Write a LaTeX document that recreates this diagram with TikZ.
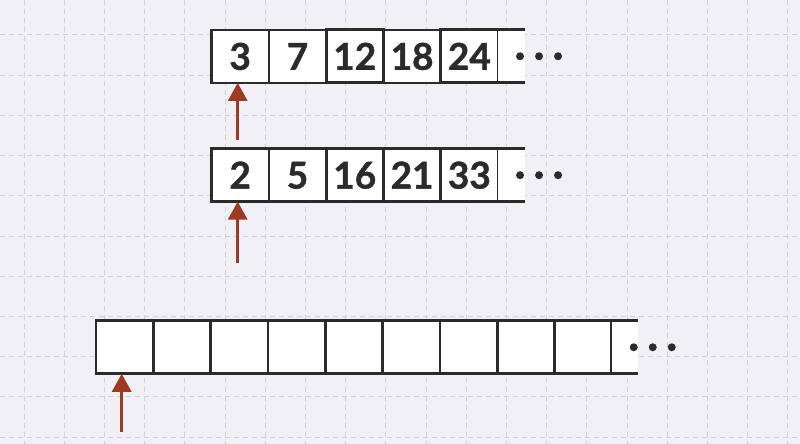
\documentclass[tikz,border=0pt]{standalone}
\usepackage{fontspec}
\setmainfont{Lato}[BoldFeatures={FakeBold=1.2}]
\usetikzlibrary{arrows.meta, matrix, positioning}
\definecolor{ink}{HTML}{2B2B2B}
\definecolor{rust}{HTML}{9E3A22}
\definecolor{paper}{HTML}{F1F0F5}
\definecolor{rule}{HTML}{CFCFD4}
\tikzstyle{ptr} = [draw=rust, -{Triangle[length=18pt,width=19pt]}, line width=3pt]

\begin{document}
\begin{tikzpicture}[x=1pt, y=-1pt, ampersand replacement=\&,
    cell/.style={rectangle, draw=ink, line width=2.7pt, fill=white, text=ink, minimum width=57.3pt, minimum height=53pt, inner sep=0pt, outer sep=0pt, font=\fontsize{37}{40}\selectfont\bfseries},
    row/.style={matrix of nodes, nodes={cell}, inner sep=0pt, outer sep=0pt, column sep=-2.7pt, nodes in empty cells, anchor=north west}]

    \tikzset{gridline/.style={draw=rule, line width=1pt, dash pattern=on 5pt off 4pt},
      tail/.style={draw=ink, line width=2.7pt}}

    \fill[paper] (0,0) rectangle (800,444);
    \useasboundingbox (0,0) rectangle (800,444);
    \foreach \i in {0,...,19} \draw[gridline] (24+40.2*\i,0) -- (24+40.2*\i,444);
    \foreach \j in {0,...,10} \draw[gridline] (0,35+40.2*\j) -- (800,35+40.2*\j);

    \matrix (A) [row] at (210.2,28.4) {3 \& 7 \& 12 \& 18 \& 24\\};
    \matrix (B) [row] at (210.2,147.2) {2 \& 5 \& 16 \& 21 \& 33\\};
    \matrix (C) [row] at (94.7,319.4) {\&\&\&\&\&\&\&\&\\};

    % open ends
    \foreach \m/\k in {A/5, B/5, C/9} {
      \fill[white] (\m-1-\k.north east) rectangle ++(26.7,53);
      \draw[tail] (\m-1-\k.north east) -- ++(26.7,0) (\m-1-\k.south east) -- ++(26.7,0);
      \foreach \d in {22,41,60} \fill[ink] ([xshift=\d pt]\m-1-\k.east) circle (4);
    }

    \coordinate (pa) at ([xshift=-2.5pt,yshift=-57.3pt]A-1-1.south);
    \coordinate (pb) at ([xshift=-2.5pt,yshift=-61pt]B-1-1.south);
    \coordinate (pc) at ([xshift=-3pt,yshift=-58pt]C-1-1.south);
    \draw[ptr] (pa) -- (pa |- A-1-1.south);
    \draw[ptr] (pb) -- (pb |- B-1-1.south);
    \draw[ptr] (pc) -- (pc |- C-1-1.south);

\end{tikzpicture}
\end{document}
